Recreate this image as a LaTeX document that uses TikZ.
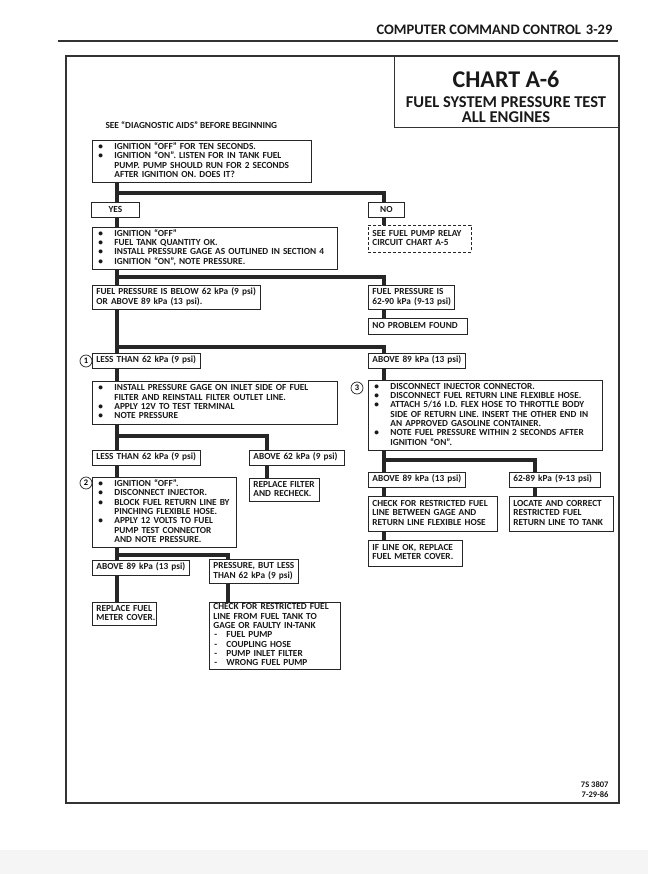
\documentclass[tikz,border=0pt]{standalone}
\usepackage{fontspec}
\setmainfont{Carlito}
\newcommand\bxfont{\fontsize{9.3}{9.3}\selectfont\bfseries}
\newcommand\bl{\makebox[18pt][l]{\hspace{2pt}\textbullet}}
\newcommand\ind{\hspace*{18pt}}
\newcommand\dsh{\makebox[13pt][l]{\hspace{1pt}-}}
\newcommand\tb[1]{\begin{tabular}{@{}l@{}}#1\end{tabular}}
\begin{document}
\begin{tikzpicture}[x=1pt,y=-1pt,
  box/.style={draw=black!85, line width=0.8pt, anchor=north west, inner xsep=4pt,
    inner ysep=0pt, align=left, font=\bxfont, text=black!90},
  wh/.style 2 args={text width=#1pt-8pt, minimum height=#2pt},
  cbox/.style={box, align=center},
  conn/.style={line width=3.1pt, draw=black!85},
  circ/.style={circle, draw=black!85, line width=0.7pt, inner sep=0pt,
    minimum size=12pt, font=\fontsize{8.5}{9}\selectfont\bfseries},
  txt/.style={font=\bxfont, text=black!90}]
\useasboundingbox (0,0) rectangle (648,874);
\fill[white] (0,0) rectangle (648,874);
\fill[gray!8] (0,850) rectangle (648,874);
% header
\node[anchor=east, font=\fontsize{14.5}{15}\selectfont\bfseries, text=black!90] (hdr) at (616,30) {COMPUTER COMMAND CONTROL\hspace{5pt}3-29};
\draw[line width=1.2pt, black!80] (58,41) -- (618,41);
% frame and title
\draw[line width=1.2pt, black!80] (66,56) rectangle (619,803);
\node[draw=black!80, line width=1.2pt, anchor=north west, minimum width=225pt, minimum height=71pt, inner sep=0pt] (title) at (394,56) {};
\node[font=\fontsize{24}{25}\selectfont\bfseries, text=black!90] (t1) at (506,79) {CHART A-6};
\node[font=\fontsize{16.5}{17}\selectfont\bfseries, text=black!90] (t2) at (506,102) {FUEL SYSTEM PRESSURE TEST};
\node[font=\fontsize{16.5}{17}\selectfont\bfseries, text=black!90] (t3) at (506,117) {ALL ENGINES};
\node[txt, anchor=west] (see) at (102,125) {SEE “DIAGNOSTIC AIDS” BEFORE BEGINNING};
% boxes
\node[box, wh={219}{42}] (b1) at (92,140) {\tb{\bl IGNITION “OFF” FOR TEN SECONDS.\\ \bl IGNITION “ON”. LISTEN FOR IN TANK FUEL\\ \ind PUMP. PUMP SHOULD RUN FOR 2 SECONDS\\ \ind AFTER IGNITION ON. DOES IT?}};
\node[cbox, wh={48}{15}] (yes) at (91,202) {YES};
\node[cbox, wh={36}{15}] (no) at (368,202) {NO};
\node[box, wh={245}{42}] (b2) at (92,227) {\tb{\bl IGNITION “OFF”\\ \bl FUEL TANK QUANTITY OK.\\ \bl INSTALL PRESSURE GAGE AS OUTLINED IN SECTION 4\\ \bl IGNITION “ON”, NOTE PRESSURE.}};
\node[box, dashed, dash pattern=on 3pt off 2pt, wh={103}{27}] (dsh) at (368,225) {\tb{SEE FUEL PUMP RELAY\\ CIRCUIT CHART A-5}};
\node[box, wh={168}{24}] (below) at (92,285) {\tb{FUEL PRESSURE IS BELOW 62 kPa (9 psi)\\ OR ABOVE 89 kPa (13 psi).}};
\node[box, wh={86}{24}] (p6290) at (368,285) {\tb{FUEL PRESSURE IS\\ 62-90 kPa (9-13 psi)}};
\node[box, wh={99}{16}] (nopb) at (368,318) {\tb{NO PROBLEM FOUND}};
\node[box, wh={108}{15}] (lt62a) at (92,353) {\tb{LESS THAN 62 kPa (9 psi)}};
\node[box, wh={97}{15}] (ab89a) at (368,353) {\tb{ABOVE 89 kPa (13 psi)}};
\node[box, wh={245}{43}] (inst) at (92,381) {\tb{\bl INSTALL PRESSURE GAGE ON INLET SIDE OF FUEL\\ \ind FILTER AND REINSTALL FILTER OUTLET LINE.\\ \bl APPLY 12V TO TEST TERMINAL\\ \bl NOTE PRESSURE}};
\node[box, wh={234}{70}] (b3) at (368,380) {\tb{\bl DISCONNECT INJECTOR CONNECTOR.\\ \bl DISCONNECT FUEL RETURN LINE FLEXIBLE HOSE.\\ \bl ATTACH 5/16 I.D. FLEX HOSE TO THROTTLE BODY\\ \ind SIDE OF RETURN LINE. INSERT THE OTHER END IN\\ \ind AN APPROVED GASOLINE CONTAINER.\\ \bl NOTE FUEL PRESSURE WITHIN 2 SECONDS AFTER\\ \ind IGNITION “ON”.}};
\node[box, wh={108}{15}] (lt62b) at (92,450) {\tb{LESS THAN 62 kPa (9 psi)}};
\node[box, wh={95}{15}] (ab62) at (249,450) {\tb{ABOVE 62 kPa (9 psi)}};
\node[box, wh={144}{70}] (b2x) at (92,477) {\tb{\bl IGNITION “OFF”.\\ \bl DISCONNECT INJECTOR.\\ \bl BLOCK FUEL RETURN LINE BY\\ \ind PINCHING FLEXIBLE HOSE.\\ \bl APPLY 12 VOLTS TO FUEL\\ \ind PUMP TEST CONNECTOR\\ \ind AND NOTE PRESSURE.}};
\node[box, wh={70}{23}] (repf) at (249,478) {\tb{REPLACE FILTER\\ AND RECHECK.}};
\node[box, wh={97}{15}] (ab89c) at (368,472) {\tb{ABOVE 89 kPa (13 psi)}};
\node[box, wh={91}{15}] (p6289) at (509,472) {\tb{62-89 kPa (9-13 psi)}};
\node[box, wh={129}{35}] (chk1) at (368,496) {\tb{CHECK FOR RESTRICTED FUEL\\ LINE BETWEEN GAGE AND\\ RETURN LINE FLEXIBLE HOSE}};
\node[box, wh={104}{35}] (loc) at (509,496) {\tb{LOCATE AND CORRECT\\ RESTRICTED FUEL\\ RETURN LINE TO TANK}};
\node[box, wh={94}{26}] (ifok) at (368,540) {\tb{IF LINE OK, REPLACE\\ FUEL METER COVER.}};
\node[box, wh={97}{15}] (ab89b) at (92,560) {\tb{ABOVE 89 kPa (13 psi)}};
\node[box, wh={89}{24}] (press) at (209,559) {\tb{PRESSURE, BUT LESS\\ THAN 62 kPa (9 psi)}};
\node[box, wh={64}{23}] (repm) at (92,602) {\tb{REPLACE FUEL\\ METER COVER.}};
\node[box, wh={131}{67}] (chk2) at (209,602) {\tb{CHECK FOR RESTRICTED FUEL\\ LINE FROM FUEL TANK TO\\ GAGE OR FAULTY IN-TANK\\ \dsh FUEL PUMP\\ \dsh COUPLING HOSE\\ \dsh PUMP INLET FILTER\\ \dsh WRONG FUEL PUMP}};
% circles
\node[circ] (c1) at (86,361) {1};
\node[circ] (c2) at (86,483) {2};
\node[circ] (c3) at (357,388) {3};
% footer
\node[anchor=east, font=\fontsize{8.5}{9}\selectfont\bfseries, text=black!90] (f1) at (612,785) {7S 3807};
\node[anchor=east, font=\fontsize{8.5}{9}\selectfont\bfseries, text=black!90] (f2) at (612,795) {7-29-86};
% connectors
\coordinate (L) at (117,0);
\coordinate (R) at (384,0);
\coordinate (j1) at (117,193);
\coordinate (j2) at (117,277);
\coordinate (j3) at (117,347);
\coordinate (j4) at (117,436);
\coordinate (j5) at (384,460);
\coordinate (j6) at (117,555);
\draw[conn] (b1.south -| L) -- (yes.north -| L);
\draw[conn] (j1) -| (no.north -| R);
\draw[conn] (yes.south -| L) -- (b2.north -| L);
\draw[conn] (no.south -| R) -- (dsh.north -| R);
\draw[conn] (b2.south -| L) -- (below.north -| L);
\draw[conn] (j2) -| (p6290.north -| R);
\draw[conn] (p6290.south -| R) -- (nopb.north -| R);
\draw[conn] (below.south -| L) -- (lt62a.north -| L);
\draw[conn] (j3) -| (ab89a.north -| R);
\draw[conn] (lt62a.south -| L) -- (inst.north -| L);
\draw[conn] (ab89a.south -| R) -- (b3.north -| R);
\draw[conn] (inst.south -| L) -- (lt62b.north -| L);
\draw[conn] (j4) -| (ab62.north -| 267,0);
\draw[conn] (ab62.south -| 267,0) -- (repf.north -| 267,0);
\draw[conn] (b3.south -| R) -- (ab89c.north -| R);
\draw[conn] (j5) -| (p6289.north -| 535,0);
\draw[conn] (p6289.south -| 535,0) -- (loc.north -| 535,0);
\draw[conn] (ab89c.south -| R) -- (chk1.north -| R);
\draw[conn] (chk1.south -| R) -- (ifok.north -| R);
\draw[conn] (lt62b.south -| L) -- (b2x.north -| L);
\draw[conn] (b2x.south -| L) -- (ab89b.north -| L);
\draw[conn] (j6) -| (press.north -| 228,0);
\draw[conn] (press.south -| 228,0) -- (chk2.north -| 228,0);
\draw[conn] (ab89b.south -| L) -- (repm.north -| L);
\end{tikzpicture}
\end{document}
